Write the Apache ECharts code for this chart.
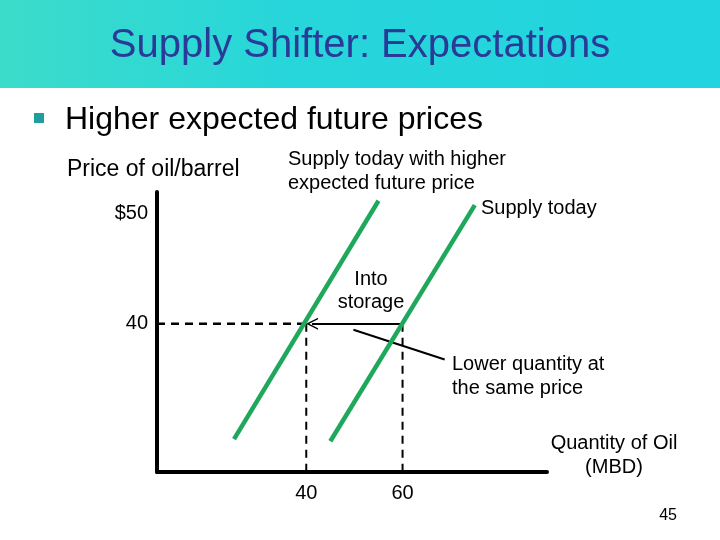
<!DOCTYPE html>
<html>
<head>
<meta charset="utf-8">
<script src="https://cdn.jsdelivr.net/npm/echarts@6/dist/echarts.min.js"></script>
<style>html,body{margin:0;padding:0;background:#fff}#c{width:720px;height:540px}</style>
</head>
<body>
<div id="c"></div>
<script>
// ---- data (quantity of oil in MBD, price of oil per barrel) ----
var supplyHigherExp = [[25, 29.5], [55, 51.2]];   // Supply today with higher expected future price
var supplyToday = [[45, 29.3], [75, 50.8]];        // Supply today
var eqPrice = 40;
var qtyHigherExp = 40;
var qtyToday = 60;
var xTickValues = [40, 60];
var xTickLabels = ['40', '60'];
var yTickValues = [40, 50];
var yTickLabels = ['40', '$50'];
var pointerLine = [[49.8, 39.45], [68.75, 36.75]];
var xMin = 9, xMax = 90, yMin = 26.5, yMax = 52;

var FONT = '"Liberation Sans", Arial, sans-serif';
var green = '#1FA85C';

var chart = echarts.init(document.getElementById('c'), null, {renderer: 'canvas'});

function txt(x, y, s, size, align, color) {
  return {type: 'text', x: x, y: y, style: {text: s, fill: color || '#000', font: size + 'px ' + FONT, textAlign: align || 'left', textVerticalAlign: 'middle'}};
}

var option = {
  animation: false,
  backgroundColor: '#fff',
  grid: {left: 157, top: 192, width: 390, height: 280, containLabel: false, outerBoundsMode: 'none'},
  xAxis: {
    type: 'value', min: xMin, max: xMax,
    axisLine: {show: true, onZero: false, lineStyle: {color: '#000', width: 4}},
    axisTick: {show: false},
    splitLine: {show: false},
    axisLabel: {
      customValues: xTickValues, margin: 11, color: '#000', fontSize: 20, fontFamily: FONT,
      formatter: function (v) { return xTickLabels[xTickValues.indexOf(v)]; }
    }
  },
  yAxis: {
    type: 'value', min: yMin, max: yMax,
    axisLine: {show: true, onZero: false, lineStyle: {color: '#000', width: 4}},
    axisTick: {show: false},
    splitLine: {show: false},
    axisLabel: {
      customValues: yTickValues, margin: 9, color: '#000', fontSize: 20, fontFamily: FONT,
      formatter: function (v) { return yTickLabels[yTickValues.indexOf(v)]; }
    }
  },
  series: [
    {type: 'line', data: supplyHigherExp, symbol: 'none', lineStyle: {color: green, width: 4.5}, z: 5},
    {type: 'line', data: supplyToday, symbol: 'none', lineStyle: {color: green, width: 4.5}, z: 5},
    {type: 'line', data: [[xMin, eqPrice], [qtyHigherExp, eqPrice]], symbol: 'none',
     lineStyle: {color: '#000', width: 2.5, type: [8, 6]}, z: 3},
    {type: 'line', data: [[qtyHigherExp, eqPrice], [qtyHigherExp, yMin]], symbol: 'none',
     lineStyle: {color: '#000', width: 2, type: [8, 6]}, z: 3},
    {type: 'line', data: [[qtyToday, eqPrice], [qtyToday, yMin]], symbol: 'none',
     lineStyle: {color: '#000', width: 2, type: [8, 6]}, z: 3,
     markLine: {
       silent: true, animation: false,
       symbol: ['none', 'path://M0,0 L6,12 L4.4,12 L0,3.2 L-4.4,12 L-6,12 Z'], symbolSize: [12, 12],
       lineStyle: {color: '#000', width: 2, type: 'solid'},
       label: {show: false},
       data: [[{coord: [qtyToday, eqPrice]}, {coord: [qtyHigherExp + 1.2, eqPrice]}]]
     }},
    {type: 'line', data: pointerLine, symbol: 'none', lineStyle: {color: '#000', width: 2}, z: 4}
  ],
  graphic: [
    {type: 'rect', shape: {x: 0, y: 0, width: 720, height: 88}, z: -1,
     style: {fill: new echarts.graphic.LinearGradient(0, 0, 1, 0, [
       {offset: 0, color: '#3CDCCA'}, {offset: 0.4, color: '#27D6DA'}, {offset: 1, color: '#21D4E0'}])}},
    txt(360, 46, 'Supply Shifter: Expectations', 40, 'center', '#2A3A97'),
    {type: 'rect', shape: {x: 34, y: 113, width: 10, height: 10}, style: {fill: '#1E9E9C'}},
    txt(65, 120, 'Higher expected future prices', 32),
    txt(67, 170, 'Price of oil/barrel', 23),
    txt(288, 159, 'Supply today with higher', 20),
    txt(288, 183, 'expected future price', 20),
    txt(481, 208, 'Supply today', 20),
    txt(371, 279, 'Into', 20, 'center'),
    txt(371, 302, 'storage', 20, 'center'),
    txt(452, 364, 'Lower quantity at', 20),
    txt(452, 388, 'the same price', 20),
    txt(614, 443, 'Quantity of Oil', 20, 'center'),
    txt(614, 467, '(MBD)', 20, 'center'),
    txt(677, 516, '45', 16, 'right')
  ]
};
chart.setOption(option);
</script>
</body>
</html>
